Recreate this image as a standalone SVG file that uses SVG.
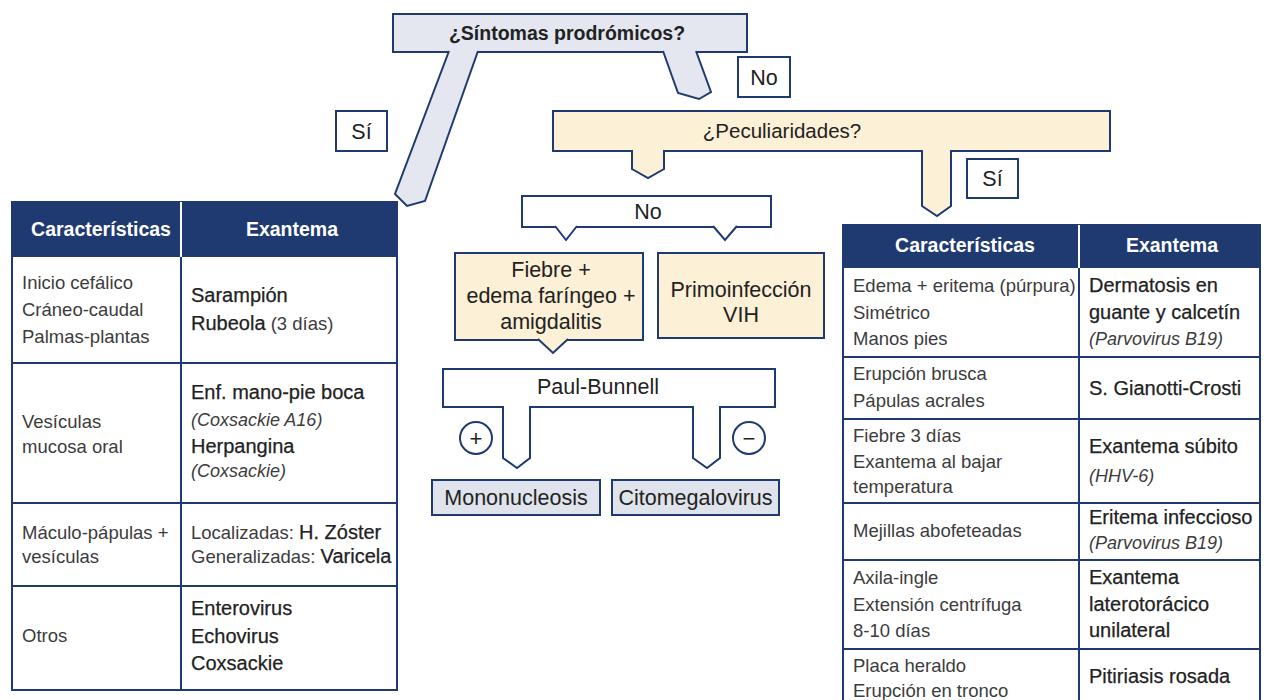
<svg xmlns="http://www.w3.org/2000/svg" width="1269" height="700" viewBox="0 0 1269 700">
<style>
text{font-family:"Liberation Sans",Arial,sans-serif;}
.bx{stroke:#1f3a70;stroke-width:2;}
.blue{fill:#e4e7f0;}
.cream{fill:#fcf0d6;}
.white{fill:#ffffff;}
.gray{fill:#dfe3ec;}
.ln{stroke:#1f3a70;stroke-width:2;fill:none;}
.hdr{fill:#1f3a70;}
.ht{fill:#ffffff;font-weight:bold;font-size:19.5px;text-anchor:middle;}
.lt{fill:#3c3c3c;font-size:18.5px;}
.m{fill:#222222;font-size:20px;stroke:#222222;stroke-width:0.25;}
.it{font-style:italic;fill:#3c3c3c;stroke:none;font-size:18px;}
.l{fill:#3c3c3c;stroke:none;font-size:18.5px;}
.bt{fill:#222222;font-size:21.5px;text-anchor:middle;}
.lab{fill:#222222;font-size:21.5px;text-anchor:middle;}
</style>

<g id="sintomas">
<rect class="bx blue" x="393" y="14" width="354" height="38"/>
<text x="567" y="40" font-size="19.5" font-weight="bold" fill="#222" text-anchor="middle">¿Síntomas prodrómicos?</text>
</g>

<g id="label-no-1">
<rect class="bx white" x="738" y="57" width="52" height="40"/>
<text class="lab" x="764" y="85">No</text>
</g>

<g id="label-si-1">
<rect class="bx white" x="336" y="111" width="51" height="40"/>
<text class="lab" x="361.5" y="139">Sí</text>
</g>

<g id="peculiaridades">
<rect class="bx cream" x="553" y="111" width="557" height="40"/>
<text x="782" y="138" font-size="20.5" fill="#222" text-anchor="middle">¿Peculiaridades?</text>
</g>

<g id="label-si-2">
<rect class="bx white" x="967" y="159" width="51" height="39"/>
<text class="lab" x="992.5" y="186">Sí</text>
</g>

<g id="no-box">
<rect class="bx white" x="522" y="196" width="249" height="31"/>
<text class="lab" x="648" y="219">No</text>
</g>

<g id="fiebre">
<rect class="bx cream" x="455" y="253" width="188" height="87"/>
<text class="bt" x="551" y="277">Fiebre +</text>
<text class="bt" x="551" y="303">edema faríngeo +</text>
<text class="bt" x="551" y="329">amigdalitis</text>
</g>

<g id="primoinfeccion">
<rect class="bx cream" x="658" y="253" width="166" height="85"/>
<text class="bt" x="741" y="297">Primoinfección</text>
<text class="bt" x="741" y="322">VIH</text>
</g>

<g id="paul-bunnell">
<rect class="bx white" x="443" y="369" width="332" height="38"/>
<text class="bt" x="598" y="394">Paul-Bunnell</text>
</g>

<g id="positivo">
<circle class="bx white" cx="476" cy="438" r="16"/>
<text x="476" y="446" font-size="22" fill="#222" text-anchor="middle">+</text>
</g>

<g id="negativo">
<circle class="bx white" cx="749" cy="438" r="16"/>
<text x="749" y="446" font-size="22" fill="#222" text-anchor="middle">−</text>
</g>

<g id="mononucleosis">
<rect class="bx gray" x="432" y="480" width="168" height="35"/>
<text class="bt" x="516" y="505">Mononucleosis</text>
</g>

<g id="citomegalovirus">
<rect class="bx gray" x="612" y="480" width="167" height="35"/>
<text class="bt" x="695.5" y="505">Citomegalovirus</text>
</g>

<g id="connectors">
<path class="bx blue" d="M449,51 L395,194 L407,206 L425,201 L478,51"/>
<path class="bx blue" d="M663,51 L678,93 L699,99 L711,92 L696,51"/>
<path class="bx cream" d="M632,150 L632,169 L648,178 L664,169 L664,150"/>
<path class="bx cream" d="M922,150 L922,206 L937,216 L951,206 L951,150"/>
<path class="bx white" d="M555,226 L566,240 L577,226"/>
<path class="bx white" d="M713,226 L725,240 L737,226"/>
<path class="bx cream" d="M538,339 L553,353 L568,339"/>
<path class="bx white" d="M503,406 L503,458 L517,468 L530,458 L530,406"/>
<path class="bx white" d="M693,406 L693,458 L707,468 L720,458 L720,406"/>
</g>

<g id="tabla-prodromicos">
<rect x="12" y="202" width="385" height="488" fill="#fff" class="bx"/>
<rect class="hdr" x="12" y="202" width="385" height="55"/>
<line x1="181" y1="202" x2="181" y2="257" stroke="#fff" stroke-width="2"/>
<line class="ln" x1="181" y1="257" x2="181" y2="690"/>
<line class="ln" x1="12" y1="363" x2="397" y2="363"/>
<line class="ln" x1="12" y1="503" x2="397" y2="503"/>
<line class="ln" x1="12" y1="586" x2="397" y2="586"/>
<text class="ht" x="101" y="236">Características</text>
<text class="ht" x="292" y="236">Exantema</text>
<text class="lt" x="22" y="289">Inicio cefálico</text>
<text class="lt" x="22" y="316">Cráneo-caudal</text>
<text class="lt" x="22" y="343">Palmas-plantas</text>
<text class="m" x="191" y="302">Sarampión</text>
<text class="m" x="191" y="330">Rubeola<tspan class="l"> (3 días)</tspan></text>
<text class="lt" x="22" y="428">Vesículas</text>
<text class="lt" x="22" y="453">mucosa oral</text>
<text class="m" x="191" y="399">Enf. mano-pie boca</text>
<text class="it" x="191" y="426">(Coxsackie A16)</text>
<text class="m" x="191" y="453">Herpangina</text>
<text class="it" x="191" y="477">(Coxsackie)</text>
<text class="lt" x="22" y="539">Máculo-pápulas +</text>
<text class="lt" x="22" y="563">vesículas</text>
<text class="m" x="191" y="539"><tspan class="l">Localizadas: </tspan>H. Zóster</text>
<text class="m" x="191" y="563"><tspan class="l">Generalizadas: </tspan>Varicela</text>
<text class="lt" x="22" y="642">Otros</text>
<text class="m" x="191" y="615">Enterovirus</text>
<text class="m" x="191" y="643">Echovirus</text>
<text class="m" x="191" y="670">Coxsackie</text>
</g>

<g id="tabla-peculiaridades">
<rect x="843" y="225" width="417" height="490" fill="#fff" class="bx"/>
<rect class="hdr" x="843" y="225" width="417" height="43"/>
<line x1="1079" y1="225" x2="1079" y2="268" stroke="#fff" stroke-width="2"/>
<line class="ln" x1="1079" y1="268" x2="1079" y2="715"/>
<line class="ln" x1="843" y1="357" x2="1260" y2="357"/>
<line class="ln" x1="843" y1="419" x2="1260" y2="419"/>
<line class="ln" x1="843" y1="503" x2="1260" y2="503"/>
<line class="ln" x1="843" y1="560" x2="1260" y2="560"/>
<line class="ln" x1="843" y1="649" x2="1260" y2="649"/>
<text class="ht" x="965" y="252">Características</text>
<text class="ht" x="1172" y="252">Exantema</text>
<text class="lt" x="853" y="292">Edema + eritema (púrpura)</text>
<text class="lt" x="853" y="319">Simétrico</text>
<text class="lt" x="853" y="345">Manos pies</text>
<text class="m" x="1089" y="292">Dermatosis en</text>
<text class="m" x="1089" y="319">guante y calcetín</text>
<text class="it" x="1089" y="345">(Parvovirus B19)</text>
<text class="lt" x="853" y="380">Erupción brusca</text>
<text class="lt" x="853" y="407">Pápulas acrales</text>
<text class="m" x="1089" y="395">S. Gianotti-Crosti</text>
<text class="lt" x="853" y="442">Fiebre 3 días</text>
<text class="lt" x="853" y="468">Exantema al bajar</text>
<text class="lt" x="853" y="493">temperatura</text>
<text class="m" x="1089" y="453">Exantema súbito</text>
<text class="it" x="1089" y="482">(HHV-6)</text>
<text class="lt" x="853" y="537">Mejillas abofeteadas</text>
<text class="m" x="1089" y="524">Eritema infeccioso</text>
<text class="it" x="1089" y="549">(Parvovirus B19)</text>
<text class="lt" x="853" y="584">Axila-ingle</text>
<text class="lt" x="853" y="611">Extensión centrífuga</text>
<text class="lt" x="853" y="637">8-10 días</text>
<text class="m" x="1089" y="584">Exantema</text>
<text class="m" x="1089" y="611">laterotorácico</text>
<text class="m" x="1089" y="637">unilateral</text>
<text class="lt" x="853" y="672">Placa heraldo</text>
<text class="lt" x="853" y="697">Erupción en tronco</text>
<text class="m" x="1089" y="683">Pitiriasis rosada</text>
</g>
</svg>
